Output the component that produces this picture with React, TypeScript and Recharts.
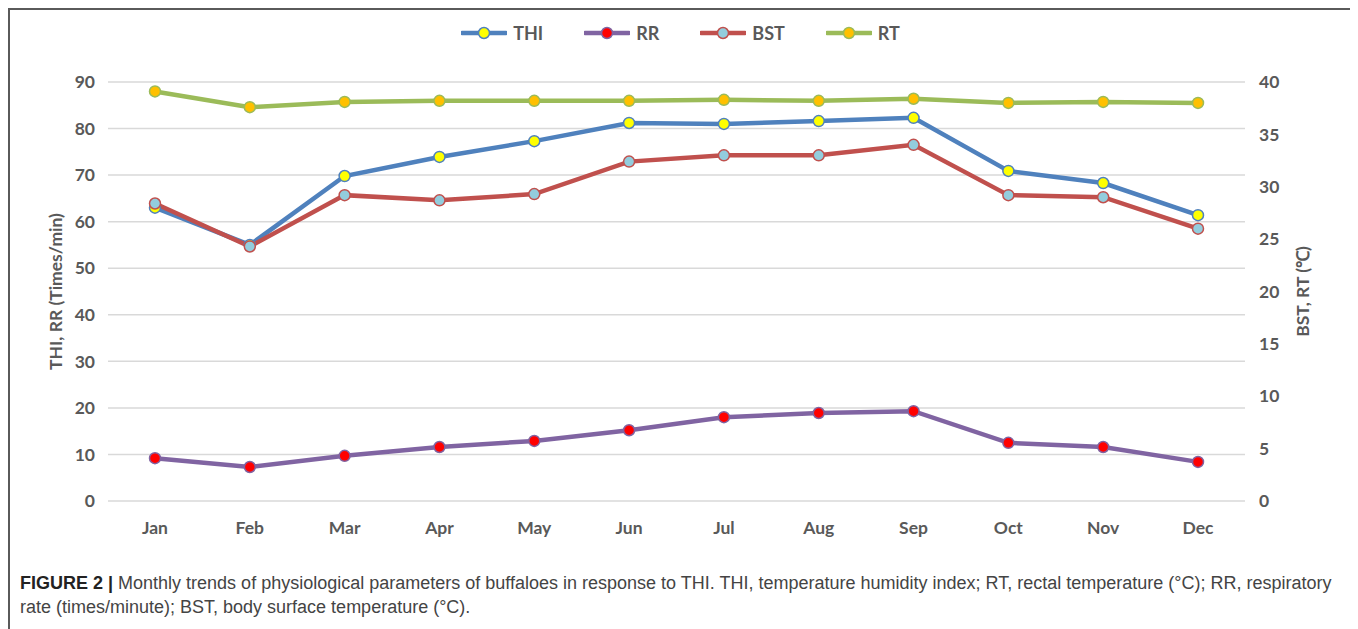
import { LineChart, Line, XAxis, YAxis, CartesianGrid, Legend } from 'recharts'

const months = ['Jan', 'Feb', 'Mar', 'Apr', 'May', 'Jun', 'Jul', 'Aug', 'Sep', 'Oct', 'Nov', 'Dec']
const thi = [63, 55, 69.8, 73.9, 77.3, 81.2, 81, 81.6, 82.3, 70.9, 68.3, 61.4]
const rr = [9.2, 7.3, 9.7, 11.6, 12.9, 15.2, 18, 18.9, 19.3, 12.5, 11.6, 8.4]
const bst = [28.4, 24.3, 29.2, 28.7, 29.3, 32.4, 33.0, 33.0, 34.0, 29.2, 29.0, 26.0]
const rt = [39.1, 37.6, 38.1, 38.2, 38.2, 38.2, 38.3, 38.2, 38.4, 38.0, 38.1, 38.0]
const leftTicks = [0, 10, 20, 30, 40, 50, 60, 70, 80, 90]
const rightTicks = [0, 5, 10, 15, 20, 25, 30, 35, 40]

const SERIES = [
  { key: 'THI', axis: 'left', stroke: '#4f81bd', fill: '#ffff00' },
  { key: 'RR', axis: 'left', stroke: '#8064a2', fill: '#ff0000' },
  { key: 'BST', axis: 'right', stroke: '#c0504d', fill: '#93cddd' },
  { key: 'RT', axis: 'right', stroke: '#9bbb59', fill: '#ffc000' },
]

const data = months.map((m, i) => ({ month: m, THI: thi[i], RR: rr[i], BST: bst[i], RT: rt[i] }))

const FONT = 'Lato, "Open Sans", sans-serif'
const TICK = { fontSize: 17.5, fontWeight: 700, fill: '#595959', fontFamily: FONT }

const LegendContent = () => (
  <div style={{ display: 'flex', justifyContent: 'center', alignItems: 'center', height: 30, paddingRight: 4 }}>
    {SERIES.map((s, i) => (
      <div key={s.key} style={{ display: 'flex', alignItems: 'center', marginLeft: i ? 41 : 0 }}>
        <svg width={46} height={14}>
          <line x1={1} y1={7} x2={45} y2={7} stroke={s.stroke} strokeWidth={4.5} strokeLinecap="round" />
          <circle cx={23} cy={7} r={5.5} fill={s.fill} stroke={s.stroke} strokeWidth={1.5} />
        </svg>
        <span style={{ marginLeft: 6, fontFamily: FONT, fontWeight: 700, fontSize: 18, color: '#595959' }}>{s.key}</span>
      </div>
    ))}
  </div>
)

const axisLabel = (text: string, dx: number) => (props: any) => {
  const { x, y, height } = props.viewBox
  const cx = x + dx
  const cy = y + height / 2
  return (
    <text x={cx} y={cy} transform={`rotate(-90 ${cx} ${cy})`} textAnchor="middle" dominantBaseline="central"
      style={{ fontSize: 17.5, fontWeight: 700, fill: '#595959', fontFamily: FONT }}>
      {text}
    </text>
  )
}

export default function App() {
  return (
    <div style={{ position: 'relative', width: 1345, height: 621, borderTop: '2px solid #5a5a5a', borderLeft: '2px solid #5a5a5a', borderRight: '2px solid #5a5a5a', background: '#fff' }}>
      <LineChart width={1345} height={560} data={data} margin={{ top: 42, right: 0, bottom: 0, left: 0 }}>
        <CartesianGrid yAxisId="left" vertical={false} stroke="#d9d9d9" strokeWidth={1.5} />
        <XAxis dataKey="month" axisLine={false} tickLine={false} height={69} tick={TICK} tickMargin={15} padding={{ left: 47, right: 47 }} />
        <YAxis yAxisId="left" domain={[0, 90]} ticks={leftTicks} width={98} axisLine={false} tickLine={false} tick={TICK} tickMargin={7}
          label={{ content: axisLabel('THI, RR (Times/min)', 45) }} />
        <YAxis yAxisId="right" orientation="right" domain={[0, 40]} ticks={rightTicks} width={110} axisLine={false} tickLine={false} tick={TICK} tickMargin={8}
          label={{ content: axisLabel('BST, RT (℃)', 57) }} />
        <Legend verticalAlign="top" content={LegendContent} wrapperStyle={{ top: 8 }} />
        {SERIES.map(s => (
          <Line key={s.key} yAxisId={s.axis} dataKey={s.key} stroke={s.stroke} strokeWidth={4.5} type="linear"
            dot={{ r: 5.5, fill: s.fill, stroke: s.stroke, strokeWidth: 1.5 }} isAnimationActive={false} />
        ))}
      </LineChart>
      <div style={{ position: 'absolute', left: 10, top: 561, fontFamily: '"Liberation Sans", Arial, sans-serif', fontSize: 18, lineHeight: '24px', color: '#444' }}>
        <div style={{ whiteSpace: 'nowrap' }}><b style={{ color: '#222' }}>FIGURE 2 |</b> Monthly trends of physiological parameters of buffaloes in response to THI. THI, temperature humidity index; RT, rectal temperature (°C); RR, respiratory</div>
        <div style={{ whiteSpace: 'nowrap' }}>rate (times/minute); BST, body surface temperature (°C).</div>
      </div>
    </div>
  )
}
